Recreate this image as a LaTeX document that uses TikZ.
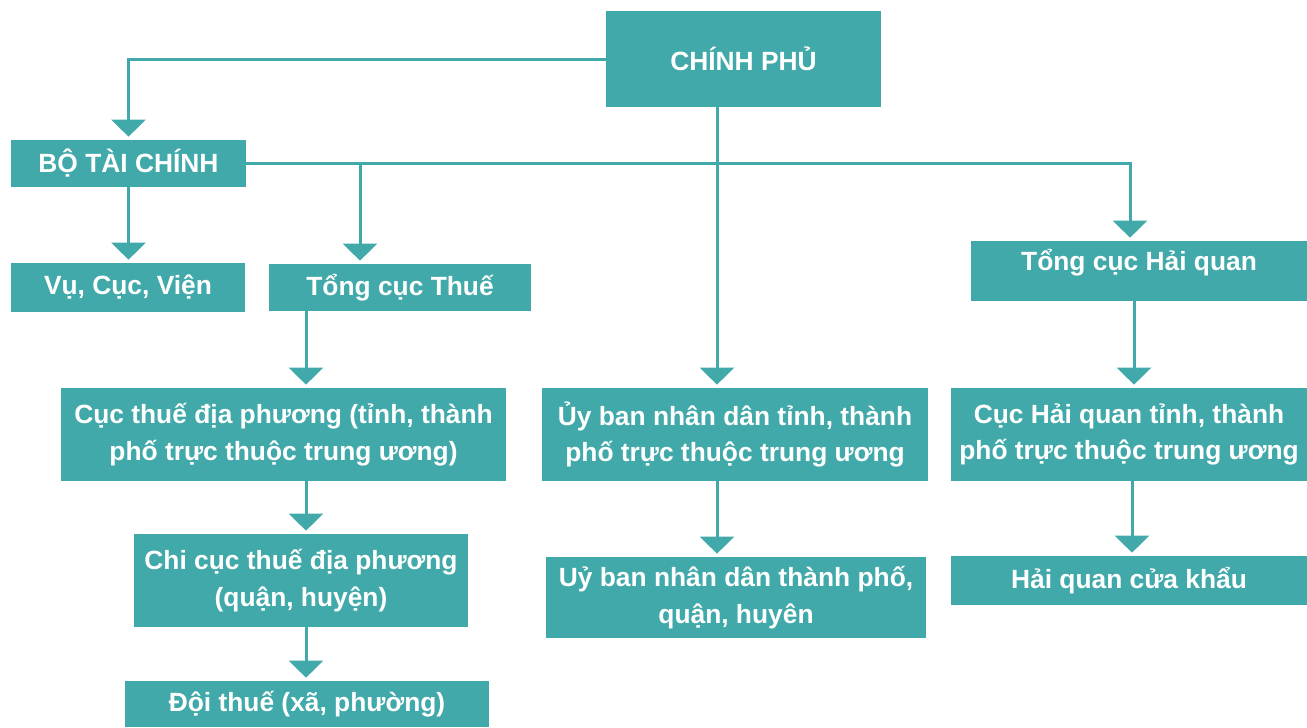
\documentclass[tikz,border=0pt]{standalone}
\usepackage{fontspec}
\setmainfont{Liberation Sans}
\usetikzlibrary{arrows.meta}
\definecolor{govteal}{HTML}{41A9A9}
\tikzset{
    box/.style={fill=govteal, text=white, font=\bfseries\fontsize{15}{20.7}\selectfont,
        align=center, inner sep=0pt},
    link/.style={draw=govteal, line width=0.06cm,
        -{Triangle[width=0.68cm,length=0.34cm]}, shorten >=0.06cm},
}

\begin{document}
\begin{tikzpicture}[x=0.02cm, y=-0.02cm]
        \useasboundingbox (0,0) rectangle (1307,727);

            \node [box, minimum width=5.5cm, minimum height=1.92cm] (gov) at (743.5,59) {CHÍNH PHỦ};
            \node [box, minimum width=4.7cm, minimum height=0.94cm] (btc) at (128.5,163.5) {BỘ TÀI CHÍNH};
            \node [box, minimum width=4.68cm, minimum height=0.98cm] (vcv) at (128,287.5) {Vụ, Cục, Viện};
            \node [box, minimum width=5.24cm, minimum height=0.94cm] (tct) at (400,287.5) {Tổng cục Thuế};
            \node [box, minimum width=8.9cm, minimum height=1.86cm] (ctdp) at (283.5,434.5) {Cục thuế địa phương (tỉnh, thành\\phố trực thuộc trung ương)};
            \node [box, minimum width=6.68cm, minimum height=1.86cm] (ccdp) at (301,580.5) {Chi cục thuế địa phương\\(quận, huyện)};
            \node [box, minimum width=7.28cm, minimum height=0.92cm] (dt) at (307,704) {Đội thuế (xã, phường)};
            \node [box, minimum width=7.72cm, minimum height=1.86cm] (ubt) at (735,434.5) {Ủy ban nhân dân tỉnh, thành\\phố trực thuộc trung ương};
            \node [box, minimum width=7.6cm, minimum height=1.62cm] (ubq) at (736,597.5) {Uỷ ban nhân dân thành phố,\\quận, huyên};
            \node [box, minimum width=6.72cm, text height=0.58cm, text depth=0.62cm] (tchq) at (1139,271) {Tổng cục Hải quan};
            \node [box, minimum width=7.12cm, minimum height=1.86cm] (hqt) at (1129,434.5) {Cục Hải quan tỉnh, thành\\phố trực thuộc trung ương};
            \node [box, minimum width=7.12cm, minimum height=0.98cm] (hqck) at (1129,580.5) {Hải quan cửa khẩu};

            \coordinate (tx) at (360,0);
            \coordinate (cx) at (306,0);
            \coordinate (ux) at (717,0);
            \coordinate (hx) at (1130,0);
            \coordinate (hx2) at (1134,0);
            \coordinate (hx3) at (1132,0);

            \draw [link] (gov.west) -| (btc.north);
            \draw [link] (gov.south -| ux) -- (ubt.north -| ux);
            \draw [link] (btc.south) -- (btc.south |- vcv.north);
            \draw [link] (btc.east) -| (tchq.north -| hx);
            \draw [link] (btc.east -| tx) -- (tct.north -| tx);
            \draw [link] (tct.south -| cx) -- (ctdp.north -| cx);
            \draw [link] (ctdp.south -| cx) -- (ccdp.north -| cx);
            \draw [link] (ccdp.south -| cx) -- (dt.north -| cx);
            \draw [link] (ubt.south -| ux) -- (ubq.north -| ux);
            \draw [link] (tchq.south -| hx2) -- (hqt.north -| hx2);
            \draw [link] (hqt.south -| hx3) -- (hqck.north -| hx3);

\end{tikzpicture}
\end{document}
